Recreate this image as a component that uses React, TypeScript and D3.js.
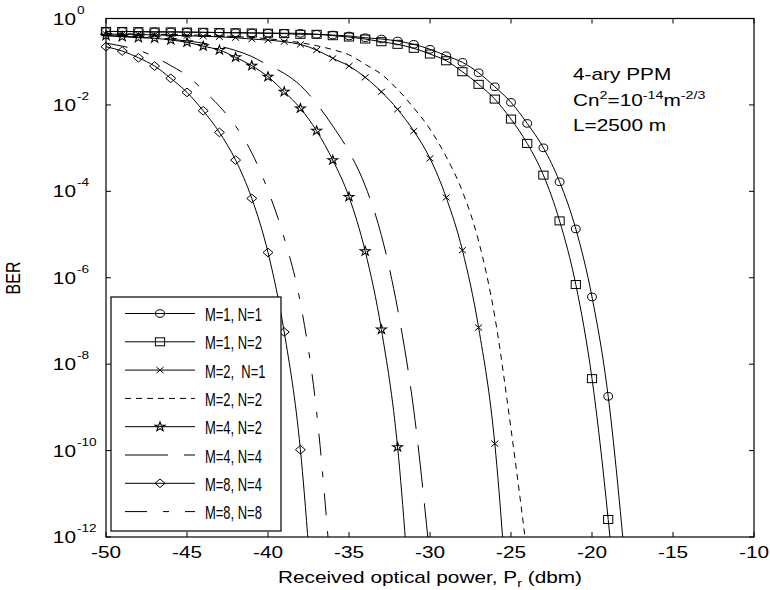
import React from "react";
import * as d3 from "d3";

// received optical power grid (dBm), one value per marker position
const power = [
  -50, -49, -48, -47, -46, -45, -44, -43, -42, -41, -40, -39, -38, -37, -36, -35, -34,
  -33, -32, -31, -30, -29, -28, -27, -26, -25, -24, -23, -22, -21, -20, -19, -18,
];

// log10(BER), starting at -50 dBm
const berM1N1 = [
  -0.3, -0.3, -0.305, -0.31, -0.31, -0.315, -0.32, -0.325, -0.33, -0.335, -0.34, -0.34,
  -0.343, -0.366, -0.382, -0.405, -0.445, -0.475, -0.521, -0.598, -0.713, -0.862, -1.015,
  -1.256, -1.58, -1.941, -2.428, -2.993, -3.78, -4.87, -6.444, -8.745, -12.4,
];
const berM1N2 = [
  -0.3, -0.3, -0.305, -0.31, -0.31, -0.315, -0.32, -0.325, -0.33, -0.335, -0.34, -0.35,
  -0.366, -0.366, -0.398, -0.429, -0.475, -0.537, -0.598, -0.69, -0.822, -0.978, -1.232,
  -1.524, -1.865, -2.328, -2.891, -3.625, -4.684, -6.157, -8.335, -11.594, -15.8,
];
const berM2N1 = [
  -0.36, -0.365, -0.37, -0.38, -0.39, -0.4, -0.41, -0.425, -0.445, -0.475, -0.5, -0.537,
  -0.6, -0.73, -0.922, -1.1, -1.362, -1.696, -2.103, -2.606, -3.238, -4.142, -5.363,
  -7.153, -9.84, -14.8,
];
const berM2N2 = [
  -0.35, -0.355, -0.36, -0.365, -0.37, -0.38, -0.39, -0.4, -0.42, -0.44, -0.47, -0.51,
  -0.56, -0.63, -0.72, -0.84, -1.06, -1.29, -1.64, -2.07, -2.56, -3.2, -4.0, -5.15,
  -6.9, -9.5, -12.4,
];
const berM4N2 = [
  -0.4, -0.421, -0.445, -0.459, -0.498, -0.551, -0.64, -0.73, -0.899, -1.093, -1.348,
  -1.696, -2.08, -2.6, -3.278, -4.128, -5.386, -7.2, -9.92, -14.8,
];
const berM4N4 = [
  -0.39, -0.41, -0.43, -0.45, -0.48, -0.52, -0.57, -0.64, -0.74, -0.88, -1.08, -1.27,
  -1.55, -1.97, -2.49, -3.08, -3.87, -5.02, -6.72, -9.07, -12.5,
];
const berM8N4 = [
  -0.653, -0.753, -0.908, -1.1, -1.385, -1.71, -2.135, -2.636, -3.277, -4.165, -5.416,
  -7.255, -9.98, -14.9,
];
const berM8N8 = [
  -0.57, -0.64, -0.73, -0.89, -1.09, -1.32, -1.66, -2.03, -2.49, -3.11, -3.98, -5.08,
  -6.58, -9.1, -13.4,
];

const labels = [
  "M=1, N=1", "M=1, N=2", "M=2,  N=1", "M=2, N=2",
  "M=4, N=2", "M=4, N=4", "M=8, N=4", "M=8, N=8",
];

const xTicks = [-50, -45, -40, -35, -30, -25, -20, -15, -10];
const yExps = [0, -2, -4, -6, -8, -10, -12];

const series = [
  { data: berM1N1, marker: "circle", dash: null },
  { data: berM1N2, marker: "square", dash: null },
  { data: berM2N1, marker: "x", dash: null },
  { data: berM2N2, marker: null, dash: "6,5" },
  { data: berM4N2, marker: "star", dash: null },
  { data: berM4N4, marker: null, dash: "43,16" },
  { data: berM8N4, marker: "diamond", dash: null },
  { data: berM8N8, marker: null, dash: "22,16,6,16" },
];

const FONT = "'Liberation Sans', Arial, Helvetica, sans-serif";
const SX = 1.3; // the figure is stretched horizontally

const starPath = d3.symbol(d3.symbolStar, 26)();

function Marker({ kind, cx, cy }) {
  const common = { fill: "none", stroke: "#000", strokeWidth: 1 };
  if (kind === "circle") return <ellipse cx={cx} cy={cy} rx={4.4} ry={3.8} {...common} />;
  if (kind === "square") return <rect x={cx - 4.6} y={cy - 4} width={9.2} height={8} {...common} />;
  if (kind === "x")
    return (
      <path d={`M${cx - 3.5},${cy - 3}L${cx + 3.5},${cy + 3}M${cx - 3.5},${cy + 3}L${cx + 3.5},${cy - 3}`} {...common} />
    );
  if (kind === "star") return <path d={starPath} transform={`translate(${cx},${cy}) scale(1.1,1)`} {...common} />;
  if (kind === "diamond")
    return <path d={`M${cx},${cy - 4.3}L${cx + 5},${cy}L${cx},${cy + 4.3}L${cx - 5},${cy}Z`} {...common} />;
  return null;
}

export default function App() {
  const left = 106, right = 754, top = 18.5, bottom = 537;
  const x = d3.scaleLinear().domain([-50, -10]).range([left, right]);
  const y = d3.scaleLog().domain([1e-12, 1]).range([bottom, top]);
  const line = d3
    .line()
    .x((d) => x(d[0]))
    .y((d) => y(d[1]))
    .curve(d3.curveMonotoneX);

  const legendX = 111, legendY = 297, legendW = 170, legendH = 234;

  return (
    <svg
      width={770}
      height={590}
      style={{ position: "absolute", left: 0, top: 0, background: "#fff" }}
      fontFamily={FONT}
    >
      <rect width={770} height={590} fill="#fff" />
      <defs>
        <clipPath id="plot">
          <rect x={left} y={top} width={right - left} height={bottom - top} />
        </clipPath>
      </defs>

      {/* curves */}
      <g clipPath="url(#plot)">
        {series.map((s, i) => {
          const pts = s.data.map((e, j) => [power[j], Math.pow(10, e)]);
          return (
            <path
              key={i}
              d={line(pts)}
              fill="none"
              stroke="#000"
              strokeWidth={1}
              strokeDasharray={s.dash || undefined}
            />
          );
        })}
      </g>
      {series.map((s, i) =>
        s.marker
          ? s.data
              .map((e, j) => [power[j], Math.pow(10, e)])
              .filter((p) => p[1] >= 1e-12)
              .map((p, j) => <Marker key={`${i}-${j}`} kind={s.marker} cx={x(p[0])} cy={y(p[1])} />)
          : null
      )}

      {/* axes box and ticks */}
      <rect x={left} y={top} width={right - left} height={bottom - top} fill="none" stroke="#000" strokeWidth={1.2} />
      {xTicks.map((t) => (
        <g key={t}>
          <line x1={x(t)} x2={x(t)} y1={bottom} y2={bottom - 5} stroke="#000" />
          <line x1={x(t)} x2={x(t)} y1={top} y2={top + 5} stroke="#000" />
          <text
            transform={`translate(${x(t)},${bottom + 21}) scale(${SX},1)`}
            textAnchor="middle"
            fontSize={16}
          >
            {t}
          </text>
        </g>
      ))}
      {yExps.map((e) => {
        const yy = y(Math.pow(10, e));
        return (
          <g key={e}>
            <line x1={left} x2={left + 5} y1={yy} y2={yy} stroke="#000" />
            <line x1={right} x2={right - 5} y1={yy} y2={yy} stroke="#000" />
            <text transform={`translate(76,${yy + 6}) scale(${SX},1)`} textAnchor="end" fontSize={16}>
              10
            </text>
            <text transform={`translate(77,${yy - 5}) scale(${SX},1)`} fontSize={10.5}>
              {e}
            </text>
          </g>
        );
      })}

      {/* axis labels */}
      <text transform={`translate(430,583) scale(${SX},1)`} textAnchor="middle" fontSize={16}>
        Received optical power, P
        <tspan fontSize={11} dy={4}>r</tspan>
        <tspan dy={-4}> (dbm)</tspan>
      </text>
      <text transform={`translate(20,278) scale(${SX},1) rotate(-90)`} textAnchor="middle" fontSize={16}>
        BER
      </text>

      {/* annotation */}
      <g transform={`translate(573,0)`}>
        <text transform={`translate(0,80) scale(${SX},1)`} fontSize={16}>4-ary PPM</text>
        <text transform={`translate(0,106) scale(${SX},1)`} fontSize={16}>
          Cn
          <tspan fontSize={11} dy={-7}>2</tspan>
          <tspan dy={7}>=10</tspan>
          <tspan fontSize={11} dy={-7}>-14</tspan>
          <tspan dy={7}>m</tspan>
          <tspan fontSize={11} dy={-7}>-2/3</tspan>
        </text>
        <text transform={`translate(0,131) scale(${SX},1)`} fontSize={16}>L=2500 m</text>
      </g>

      {/* legend */}
      <rect x={legendX} y={legendY} width={legendW} height={legendH} fill="#fff" stroke="#000" strokeWidth={1.2} />
      {series.map((s, i) => {
        const ly = 313.5 + i * 28.3;
        return (
          <g key={i}>
            <line
              x1={125}
              x2={195}
              y1={ly}
              y2={ly}
              stroke="#000"
              strokeWidth={1}
              strokeDasharray={s.dash || undefined}
            />
            {s.marker ? <Marker kind={s.marker} cx={160} cy={ly} /> : null}
            <text
              transform={`translate(205,${ly + 7.5}) scale(0.72,1)`}
              fontSize={18}
              style={{ whiteSpace: "pre" }}
            >
              {labels[i]}
            </text>
          </g>
        );
      })}
    </svg>
  );
}
